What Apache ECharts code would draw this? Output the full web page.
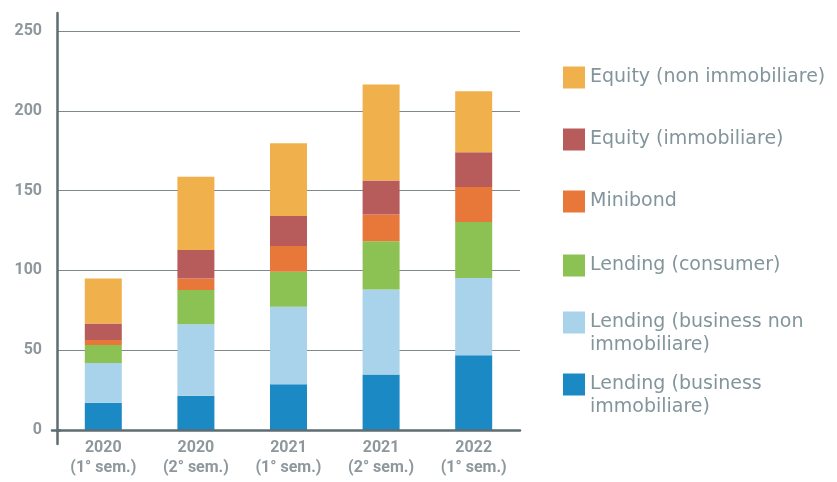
<!DOCTYPE html>
<html>
<head>
<meta charset="utf-8">
<script src="https://cdn.jsdelivr.net/npm/echarts@6/dist/echarts.min.js"></script>
<style>
  html, body { margin: 0; padding: 0; background: #fff; }
  #chart { width: 837px; height: 482px; }
</style>
</head>
<body>
<div id="chart"></div>
<script>
// Semesters on the x axis
const categories = ['2020\n(1° sem.)', '2020\n(2° sem.)', '2021\n(1° sem.)', '2021\n(2° sem.)', '2022\n(1° sem.)'];

// Stacked segments, bottom to top (milioni di euro)
const lendingBusinessImmobiliare    = [17.0, 21.5, 28.6, 34.8, 46.9];
const lendingBusinessNonImmobiliare = [25.0, 44.7, 48.7, 53.2, 48.4];
const lendingConsumer               = [11.3, 21.5, 21.9, 30.3, 35.1];
const minibond                      = [3.1, 7.3, 16.1, 16.7, 21.8];
const equityImmobiliare             = [10.4, 17.8, 18.8, 21.3, 21.9];
const equityNonImmobiliare          = [28.2, 45.9, 45.5, 60.2, 38.2];

const yTicks = [0, 50, 100, 150, 200, 250];

const seriesNames = [
  'Lending (business immobiliare)',
  'Lending (business non immobiliare)',
  'Lending (consumer)',
  'Minibond',
  'Equity (immobiliare)',
  'Equity (non immobiliare)'
];
// Two-line entries start with an empty line so the first real line
// lands beside the swatch and the second one hangs below it.
const legendText = {
  'Lending (business immobiliare)': '\nLending (business\nimmobiliare)',
  'Lending (business non immobiliare)': '\nLending (business non\nimmobiliare)'
};
const seriesData = [
  lendingBusinessImmobiliare,
  lendingBusinessNonImmobiliare,
  lendingConsumer,
  minibond,
  equityImmobiliare,
  equityNonImmobiliare
];
const colors = ['#1a89c4', '#a8d3ea', '#8cc153', '#e8783a', '#b75c5a', '#f0b04b'];

const axisDark = '#5e6d72';
const labelGrey = '#8e989c';
const legendGrey = '#82959b';

// One legend block per entry, top to bottom as listed
const legendTops = [66, 128, 190, 254, 288, 350];
const legendOrder = [5, 4, 3, 2, 1, 0];
const legends = legendOrder.map((si, i) => {
  const name = seriesNames[si];
  return {
    show: true,
    left: 563,
    top: legendTops[i],
    padding: 0,
    itemWidth: 22,
    itemHeight: 22,
    icon: 'rect',
    selectedMode: false,
    data: [name],
    formatter: n => legendText[n] || n,
    textStyle: {
      color: legendGrey,
      fontFamily: 'DejaVu Sans',
      fontSize: 19,
      lineHeight: 23
    }
  };
});

const chart = echarts.init(document.getElementById('chart'), null, { renderer: 'canvas' });

chart.setOption({
  animation: false,
  backgroundColor: '#ffffff',
  color: colors,
  legend: legends,
  grid: [
    { left: 57, right: 317, top: 31, bottom: 52 },
    { left: 57, right: 317, top: 13, bottom: 38 },
    { left: 52, width: 8, top: 0, bottom: 52 }
  ],
  xAxis: [
    {
      type: 'category',
      data: categories,
      gridIndex: 0,
      axisLine: { show: true, lineStyle: { color: axisDark, width: 2.5 } },
      axisTick: { show: false },
      axisLabel: {
        color: labelGrey,
        fontFamily: 'Roboto',
        fontWeight: 'bold',
        fontSize: 16,
        lineHeight: 20,
        margin: 8
      },
      z: 5
    },
    { type: 'value', gridIndex: 1, show: false },
    {
      type: 'category',
      data: [''],
      gridIndex: 2,
      axisLine: { show: true, lineStyle: { color: axisDark, width: 2.5 } },
      axisTick: { show: false },
      axisLabel: { show: false }
    }
  ],
  yAxis: [
    {
      type: 'value',
      gridIndex: 0,
      min: yTicks[0],
      max: yTicks[yTicks.length - 1],
      interval: 50,
      axisLine: { show: false },
      axisTick: { show: false },
      axisLabel: {
        color: labelGrey,
        fontFamily: 'Roboto',
        fontWeight: 'bold',
        fontSize: 16,
        margin: 15
      },
      splitLine: { show: true, lineStyle: { color: '#7d898d', width: 1 } }
    },
    {
      type: 'value',
      gridIndex: 1,
      min: 0,
      max: 1,
      axisLine: { show: true, lineStyle: { color: axisDark, width: 2.5 } },
      axisTick: { show: false },
      axisLabel: { show: false },
      splitLine: { show: false }
    },
    { type: 'value', gridIndex: 2, show: false }
  ],
  series: seriesNames.map((name, i) => ({
    name: name,
    type: 'bar',
    stack: 'totale',
    xAxisIndex: 0,
    yAxisIndex: 0,
    barWidth: 37,
    data: seriesData[i],
    itemStyle: { color: colors[i] },
    z: 2
  }))
});
</script>
</body>
</html>
